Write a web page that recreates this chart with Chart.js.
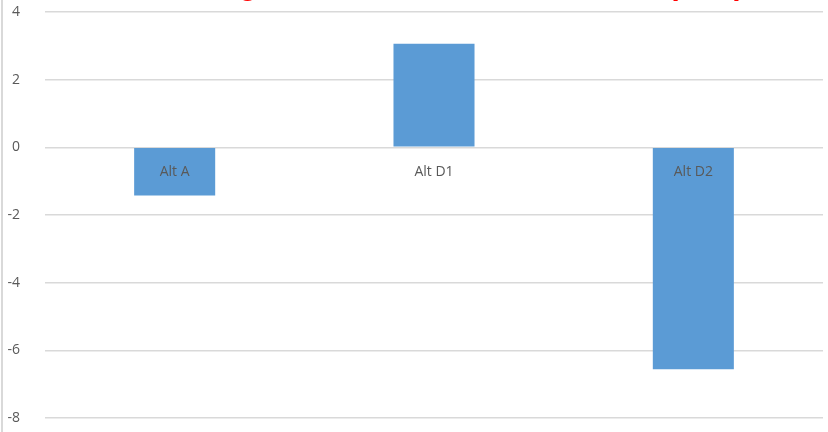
<!DOCTYPE html>
<html>
<head>
<meta charset="utf-8">
<script src="https://cdn.jsdelivr.net/npm/chart.js@4.4.1/dist/chart.umd.min.js"></script>
<style>
  html, body { margin: 0; padding: 0; background: #ffffff; }
  #wrap { position: relative; width: 828px; height: 432px; overflow: hidden; }
  #frame { position: absolute; left: 1px; top: 0; width: 0; height: 432px; border-left: 2px solid #D9D9D9; }
  canvas { position: absolute; left: 0; top: 0; }
</style>
</head>
<body>
<div id="wrap">
  <canvas id="c" width="828" height="432"></canvas>
  <div id="frame"></div>
</div>
<script>
const categories = ["Alt A", "Alt D1", "Alt D2"];
const values = [-1.42, 3.06, -6.56];
const yTicks = [4, 2, 0, -2, -4, -6, -8];
const titleText = "Change in Annual Water Deliveries (TAF)";

const titlePlugin = {
  id: 'clippedTitle',
  afterDraw(chart) {
    const ctx = chart.ctx;
    ctx.save();
    ctx.fillStyle = '#FF0000';
    ctx.font = 'bold 30px "Liberation Sans", Arial, sans-serif';
    ctx.textAlign = 'right';
    ctx.textBaseline = 'alphabetic';
    ctx.fillText(titleText, 744, -5);
    ctx.restore();
  }
};

new Chart(document.getElementById('c'), {
  type: 'bar',
  data: {
    labels: categories,
    datasets: [{
      data: values,
      backgroundColor: '#5B9BD5',
      borderWidth: 0,
      barPercentage: 0.625,
      categoryPercentage: 0.5
    }]
  },
  options: {
    responsive: false,
    animation: false,
    layout: { padding: { top: 12, bottom: 14, right: 5, left: 0 } },
    plugins: { legend: { display: false }, title: { display: false }, tooltip: { enabled: false } },
    scales: {
      x: {
        position: { y: 0 },
        afterFit(scale) { scale.height = 0; scale.paddingLeft = 0; scale.paddingRight = 0; scale.paddingTop = 0; scale.paddingBottom = 0; },
        grid: { display: false, drawTicks: false },
        border: { display: false },
        ticks: {
          z: 1,
          color: '#595959',
          font: { family: '"Open Sans", "Noto Sans", sans-serif', size: 14 },
          padding: 16,
          maxRotation: 0,
          autoSkip: false
        }
      },
      y: {
        min: -8,
        max: 4,
        afterBuildTicks(scale) { scale.ticks = yTicks.map(v => ({ value: v })); },
        afterFit(scale) { scale.width = 45; scale.paddingTop = 0; scale.paddingBottom = 0; },
        grid: { color: '#D9D9D9', lineWidth: 1.5, drawTicks: false },
        border: { display: false },
        ticks: {
          color: '#595959',
          font: { family: '"Open Sans", "Noto Sans", sans-serif', size: 14 },
          padding: 25
        }
      }
    }
  },
  plugins: [titlePlugin]
});
</script>
</body>
</html>
